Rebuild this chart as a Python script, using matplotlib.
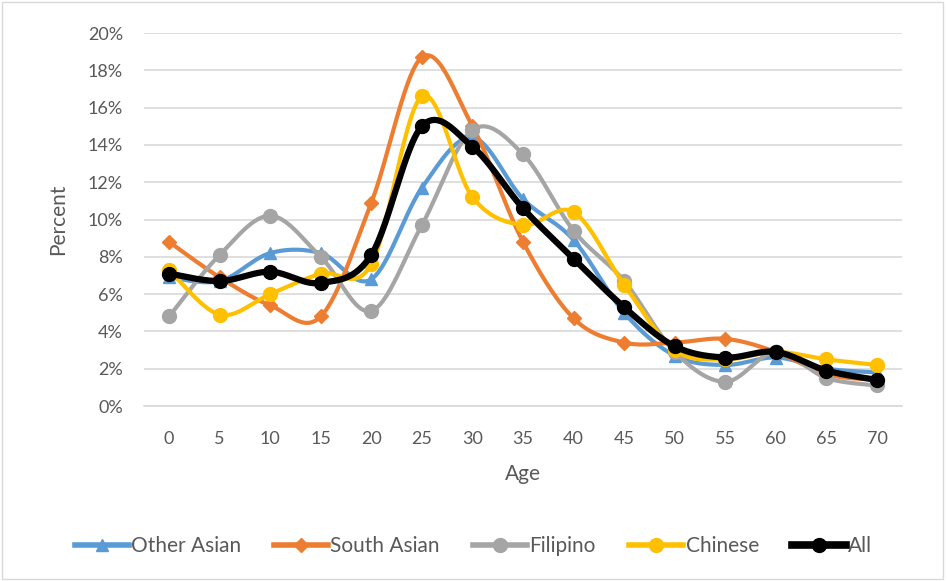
import matplotlib.pyplot as plt
import numpy as np
from matplotlib.patches import Rectangle

ages = [0, 5, 10, 15, 20, 25, 30, 35, 40, 45, 50, 55, 60, 65, 70]

other_asian = [6.9, 6.7, 8.2, 8.2, 6.8, 11.7, 14.4, 11.1, 8.9, 5.0, 2.7, 2.2, 2.6, 2.0, 1.8]
south_asian = [8.8, 6.9, 5.4, 4.8, 10.9, 18.7, 15.0, 8.8, 4.7, 3.4, 3.4, 3.6, 2.9, 1.7, 1.4]
filipino = [4.8, 8.1, 10.2, 8.0, 5.1, 9.7, 14.8, 13.5, 9.4, 6.7, 2.9, 1.3, 2.9, 1.5, 1.1]
chinese = [7.3, 4.9, 6.0, 7.1, 7.6, 16.6, 11.2, 9.7, 10.4, 6.5, 3.0, 2.5, 2.9, 2.5, 2.2]
all_groups = [7.1, 6.7, 7.2, 6.6, 8.1, 15.0, 13.9, 10.6, 7.9, 5.3, 3.2, 2.6, 2.9, 1.9, 1.4]

series = [
    ("Other Asian", other_asian, "#5b9bd5", "^", 3.0, 9),
    ("South Asian", south_asian, "#ed7d31", "D", 3.0, 7),
    ("Filipino", filipino, "#a5a5a5", "o", 3.0, 10),
    ("Chinese", chinese, "#ffc000", "o", 3.0, 10),
    ("All", all_groups, "#000000", "o", 4.5, 10),
]


def smooth(x, y, n=30):
    # Catmull-Rom style bezier through every point
    x = np.asarray(x, float)
    y = np.asarray(y, float)
    px = np.concatenate([[x[0]], x, [x[-1]]])
    py = np.concatenate([[y[0]], y, [y[-1]]])
    xs, ys = [], []
    t = np.linspace(0, 1, n)
    for i in range(1, len(px) - 2):
        p0 = np.array([px[i], py[i]])
        p3 = np.array([px[i + 1], py[i + 1]])
        c1 = p0 + (np.array([px[i + 1], py[i + 1]]) - np.array([px[i - 1], py[i - 1]])) / 6
        c2 = p3 - (np.array([px[i + 2], py[i + 2]]) - np.array([px[i], py[i]])) / 6
        pts = ((1 - t) ** 3)[:, None] * p0 + (3 * (1 - t) ** 2 * t)[:, None] * c1 \
            + (3 * (1 - t) * t ** 2)[:, None] * c2 + (t ** 3)[:, None] * p3
        xs.extend(pts[:, 0])
        ys.extend(pts[:, 1])
    return np.array(xs), np.array(ys)


plt.rcParams['font.family'] = ['Lato', 'DejaVu Sans']
fig = plt.figure(figsize=(9.47, 5.81), dpi=100)
ax = fig.add_axes([0.1518, 0.3012, 0.801, 0.642])

handles = []
for name, vals, color, marker, lw, ms in series:
    v = np.array(vals) / 100
    sx, sy = smooth(ages, v)
    ax.plot(sx, sy, color=color, lw=lw, solid_capstyle='round', zorder=3)
    ax.plot(ages, v, linestyle='none', marker=marker, color=color, markersize=ms, zorder=3)
    h, = ax.plot([], [], color=color, lw=lw + 1, marker=marker, markersize=ms, label=name)
    handles.append(h)

ax.set_xlim(-2.5, 72.5)
ax.set_ylim(0, 0.20)
ax.set_xticks(ages)
ax.set_yticks(np.arange(0, 0.201, 0.02))
ax.set_yticklabels(['%d%%' % round(t * 100) for t in np.arange(0, 0.201, 0.02)])
ax.grid(axis='y', color='#d9d9d9', lw=1.2)
ax.set_axisbelow(True)
for s in ['top', 'right', 'left']:
    ax.spines[s].set_visible(False)
ax.spines['bottom'].set_color('#d9d9d9')
ax.spines['bottom'].set_linewidth(1.2)
ax.tick_params(length=0, labelsize=13, colors='#595959')
ax.tick_params(axis='x', pad=18)
ax.tick_params(axis='y', pad=15)
ax.set_xlabel("Age", fontsize=15, color='#595959', labelpad=12)
ax.set_ylabel("Percent", fontsize=15, color='#595959', labelpad=14)

fig.legend(handles=handles, loc='center', bbox_to_anchor=(0.5, 0.06), ncol=5, frameon=False,
           fontsize=15, handlelength=2.6, handletextpad=0.1, columnspacing=1.6, numpoints=1,
           labelcolor='#595959')

fig.patches.append(Rectangle((0.002, 0.003), 0.994, 0.994, transform=fig.transFigure,
                             fill=False, edgecolor='#d9d9d9', lw=1))

fig.savefig('out.png', dpi=100)
